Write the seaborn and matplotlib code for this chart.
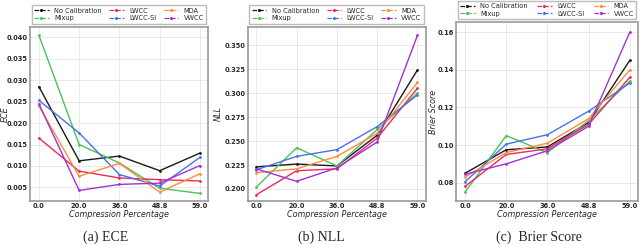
import matplotlib
matplotlib.use("Agg")
import matplotlib.pyplot as plt
import pandas as pd
import seaborn as sns
from matplotlib.lines import Line2D

sns.set_theme(style="whitegrid")

compression = ["0.0", "20.0", "36.0", "48.8", "59.0"]
methods = ["No Calibration", "Mixup", "LWCC", "LWCC-SI", "MDA", "VWCC"]
colors = ["#1a1a1a", "#4cc25a", "#ee2a5c", "#4a72e8", "#ff8b3d", "#a033d6"]

ece = {
    "No Calibration": [0.0285, 0.0112, 0.0123, 0.0089, 0.0130],
    "Mixup": [0.0405, 0.0150, 0.0107, 0.0048, 0.0036],
    "LWCC": [0.0165, 0.0088, 0.0072, 0.0068, 0.0065],
    "LWCC-SI": [0.0253, 0.0177, 0.0080, 0.0053, 0.0120],
    "MDA": [0.0240, 0.0076, 0.0106, 0.0039, 0.0082],
    "VWCC": [0.0245, 0.0043, 0.0057, 0.0060, 0.0101],
}
nll = {
    "No Calibration": [0.223, 0.226, 0.224, 0.256, 0.324],
    "Mixup": [0.202, 0.243, 0.224, 0.262, 0.300],
    "LWCC": [0.194, 0.219, 0.221, 0.253, 0.305],
    "LWCC-SI": [0.220, 0.234, 0.241, 0.265, 0.298],
    "MDA": [0.217, 0.221, 0.234, 0.258, 0.311],
    "VWCC": [0.221, 0.208, 0.222, 0.249, 0.360],
}
brier = {
    "No Calibration": [0.085, 0.0975, 0.099, 0.112, 0.145],
    "Mixup": [0.075, 0.105, 0.096, 0.113, 0.134],
    "LWCC": [0.078, 0.095, 0.098, 0.111, 0.136],
    "LWCC-SI": [0.0805, 0.1005, 0.1055, 0.118, 0.133],
    "MDA": [0.083, 0.096, 0.101, 0.114, 0.140],
    "VWCC": [0.0845, 0.090, 0.097, 0.110, 0.160],
}

W, H = 640, 245
# axes boxes in pixels: left, right, top, bottom ; caption centre x ; ylabel right edge x
panels = [
    (ece, "ECE", "(a) ECE", (0.0019, 0.0424),
     [0.005, 0.010, 0.015, 0.020, 0.025, 0.030, 0.035, 0.040], "{:.3f}",
     (30, 208, 27, 200.7), 106, 10),
    (nll, "NLL", "(b) NLL", (0.1878, 0.3688),
     [0.200, 0.225, 0.250, 0.275, 0.300, 0.325, 0.350], "{:.3f}",
     (247.5, 425.5, 27, 200.7), 321, 223),
    (brier, "Brier Score", "(c)  Brier Score", (0.0704, 0.1652),
     [0.08, 0.10, 0.12, 0.14, 0.16], "{:.2f}",
     (456, 638, 22.5, 200.7), 539, 438),
]


def to_long(metric):
    rows = []
    for m in methods:
        for i, v in enumerate(metric[m]):
            rows.append({"method": m, "x": i, "value": v})
    return pd.DataFrame(rows)


fig = plt.figure(figsize=(W / 100, H / 100), dpi=100)
palette = dict(zip(methods, colors))

for metric, ylabel, caption, ylim, yticks, fmt, box, cap_x, ylab_x in panels:
    l, r, t, b = box
    ax = fig.add_axes([l / W, 1 - b / H, (r - l) / W, (b - t) / H])
    df = to_long(metric)
    sns.lineplot(data=df, x="x", y="value", hue="method", palette=palette,
                 marker="o", markersize=2, markeredgewidth=0, linewidth=1.0,
                 ax=ax, legend=False)
    ax.set_xlim(-0.22, 4.2)
    ax.set_ylim(*ylim)
    ax.set_xticks(range(len(compression)))
    ax.set_xticklabels(compression)
    ax.set_yticks(yticks)
    ax.set_yticklabels([fmt.format(v) for v in yticks])
    ax.tick_params(labelsize=4.8, pad=1.5, length=0)
    for lab in ax.get_xticklabels() + ax.get_yticklabels():
        lab.set_fontweight("bold")
    ax.set_xlabel("Compression Percentage", fontsize=5.8, style="italic", labelpad=1)
    ax.set_ylabel(ylabel, fontsize=5.8, style="italic")
    ax.yaxis.set_label_coords((ylab_x - l) / (r - l), 0.5)
    ax.set_facecolor("white")
    ax.grid(color="#e6e6e6", linewidth=0.6)
    for sp in ax.spines.values():
        sp.set_color("#999999")
        sp.set_linewidth(1.2)

    handles = [Line2D([0], [0], color=c, linestyle="--", marker=".", markersize=2.5,
                      linewidth=0.9) for c in colors]
    ax.legend(handles, methods, loc="lower left", bbox_to_anchor=(0.01, 1.02, 0.98, 0.1),
              mode="expand", ncol=3, fontsize=4.8, frameon=True, handlelength=2.2,
              handletextpad=0.8, borderpad=0.35, labelspacing=0.25, fancybox=False,
              edgecolor="#aaaaaa", borderaxespad=0.0)

    fig.text(cap_x / W, 1 - 237 / H, caption, ha="center", va="center",
             fontsize=10, family="Liberation Serif")

fig.savefig("out.png", dpi=100)
